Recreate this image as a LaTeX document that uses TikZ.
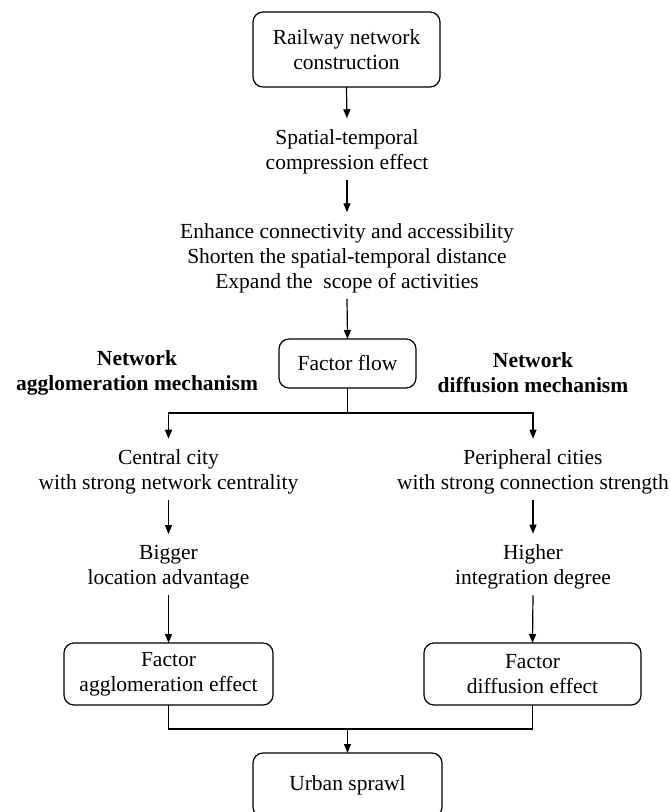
\documentclass[tikz,border=0pt]{standalone}
\usepackage{fontspec}
\setmainfont{Liberation Serif}
\usetikzlibrary{arrows.meta}
\tikzset{
  base/.style={font=\fontsize{21.5}{25}\selectfont, align=center, outer sep=0pt},
  rbox/.style={base, draw, line width=1.2pt, rounded corners=10pt, inner sep=0pt},
  txt/.style={base, inner sep=6pt},
  lab/.style={base, font=\fontsize{21.5}{25}\selectfont\bfseries, inner sep=0pt},
  conn/.style={line width=1.2pt, draw=black},
  arr/.style={conn, -{Triangle[length=9pt,width=7pt]}},
  arrt/.style={arr, shorten >=5pt}
}
\begin{document}
\begin{tikzpicture}[x=1pt,y=-1pt]
\clip (0,0) rectangle (671,812);
\fill[white] (0,0) rectangle (671,812);
% boxes
\node[rbox, minimum width=187pt, minimum height=75pt] (top) at (346.5,49.5) {Railway network\\construction};
\node[txt] (stc) at (347,151.5) {Spatial-temporal\\compression effect};
\node[txt] (enh) at (347,258) {Enhance connectivity and accessibility\\Shorten the spatial-temporal distance\\Expand the\ \ scope of activities};
\node[rbox, minimum width=137pt, minimum height=49pt] (ff) at (347.5,363.5) {Factor flow};
\node[lab] (labL) at (137,373) {Network\\agglomeration mechanism};
\node[lab] (labR) at (533,373) {Network\\diffusion mechanism};
\node[txt] (cc) at (168.5,472) {Central city\\with strong network centrality};
\node[txt] (pc) at (533,472) {Peripheral cities\\with strong connection strength};
\node[txt] (big) at (168.5,567) {Bigger\\location advantage};
\node[txt] (hi) at (533,567) {Higher\\integration degree};
\node[rbox, minimum width=209pt, minimum height=62pt] (eL) at (168.5,674) {Factor\\agglomeration effect};
\node[rbox, minimum width=217pt, minimum height=62pt] (eR) at (532.5,674) {Factor\\diffusion effect};
\node[rbox, minimum width=189pt, minimum height=64pt] (us) at (347.5,785) {Urban sprawl};
% connectors
\draw[arrt] (top.south) -- (stc.north);
\draw[arrt] (stc.south) -- (enh.north);
\draw[arr] (enh.south) -- (ff.north);
\coordinate (br) at (347.5,413);
\draw[conn] (ff.south) -- (br);
\draw[arrt] (br) -| (cc.north);
\draw[arrt] (br) -| (pc.north);
\draw[arrt] (cc.south) -- (big.north);
\draw[arrt] (pc.south) -- (hi.north);
\draw[arr] (big.south) -- (eL.north);
\draw[arr] (hi.south) -- (eR.north);
\coordinate (jn) at (347.5,729);
\draw[conn] (eL.south) |- (jn) -| (eR.south);
\draw[arr] (jn) -- (us.north);
\end{tikzpicture}
\end{document}
